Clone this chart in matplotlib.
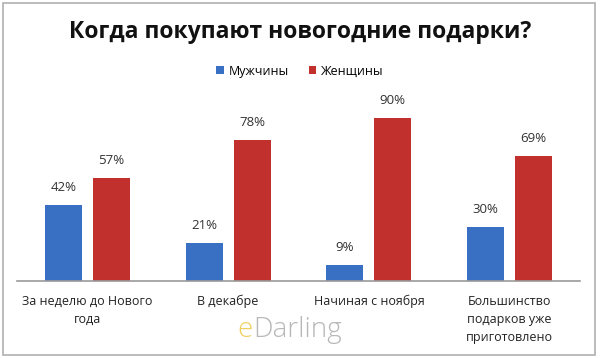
import matplotlib
matplotlib.use("Agg")
import matplotlib.pyplot as plt
from matplotlib.patches import Rectangle
import numpy as np

categories = ["За неделю до Нового\nгода", "В декабре", "Начиная с ноября",
              "Большинство\nподарков уже\nприготовлено"]
men = [42, 21, 9, 30]
women = [57, 78, 90, 69]
series_names = ["Мужчины", "Женщины"]
title = "Когда покупают новогодние подарки?"

W, H = 600, 358
fig = plt.figure(figsize=(W / 100, H / 100), dpi=100)
fig.patch.set_facecolor("white")

ax = fig.add_axes([17 / W, 1 - 281 / H, (580 - 17) / W, (281 - 100) / H])
x = np.arange(len(categories))
bw = 0.263
off = 0.17
blue = "#3a70c4"
red = "#c2302e"
b1 = ax.bar(x - off, men, bw, color=blue, label=series_names[0])
b2 = ax.bar(x + off, women, bw, color=red, label=series_names[1])
for bars, vals in ((b1, men), (b2, women)):
    for r, v in zip(bars, vals):
        ax.annotate(f"{v}%", (r.get_x() + r.get_width() / 2, v),
                    xytext=(0, 8), textcoords="offset points",
                    ha="center", va="bottom", fontsize=9.5, color="#333333",
                    family="Open Sans")
ax.set_xlim(-0.5, 3.5)
ax.set_ylim(0, 100)
ax.set_yticks([])
ax.set_xticks(x)
ax.set_xticklabels(categories, fontsize=9, color="#222222", family="Open Sans",
                   linespacing=1.5)
ax.tick_params(axis="x", length=0, pad=10)
for s in ("top", "right", "left"):
    ax.spines[s].set_visible(False)
ax.spines["bottom"].set_color("#9a9a9a")
ax.spines["bottom"].set_linewidth(1.2)
ax.set_facecolor("none")

fig.text(0.5, 1 - 32 / H, title, ha="center", va="center", fontsize=16.5,
         fontweight="bold", family="Open Sans", color="#111111")

fig.legend(handles=[b1, b2], labels=series_names, loc="center",
           bbox_to_anchor=(0.5, 1 - 71 / H), ncol=2, frameon=False,
           handlelength=0.6, handleheight=0.6,
           handletextpad=0.4, columnspacing=1.6,
           prop={"family": "Open Sans", "size": 9})

fig.text(237 / W, 1 - 330 / H, "e", ha="left", va="center", fontsize=20,
         color="#f0d060", family="Open Sans", fontweight="light")
fig.text(253 / W, 1 - 330 / H, "Darling", ha="left", va="center", fontsize=20,
         color="#b8b8b8", family="Open Sans", fontweight="light")

fig.patches.append(Rectangle((3 / W, 1 - 355 / H), (595 - 3) / W, (355 - 3) / H,
                             transform=fig.transFigure, fill=False,
                             edgecolor="#b0b0b0", linewidth=1.2))

fig.savefig("out.png", dpi=100, facecolor="white")
